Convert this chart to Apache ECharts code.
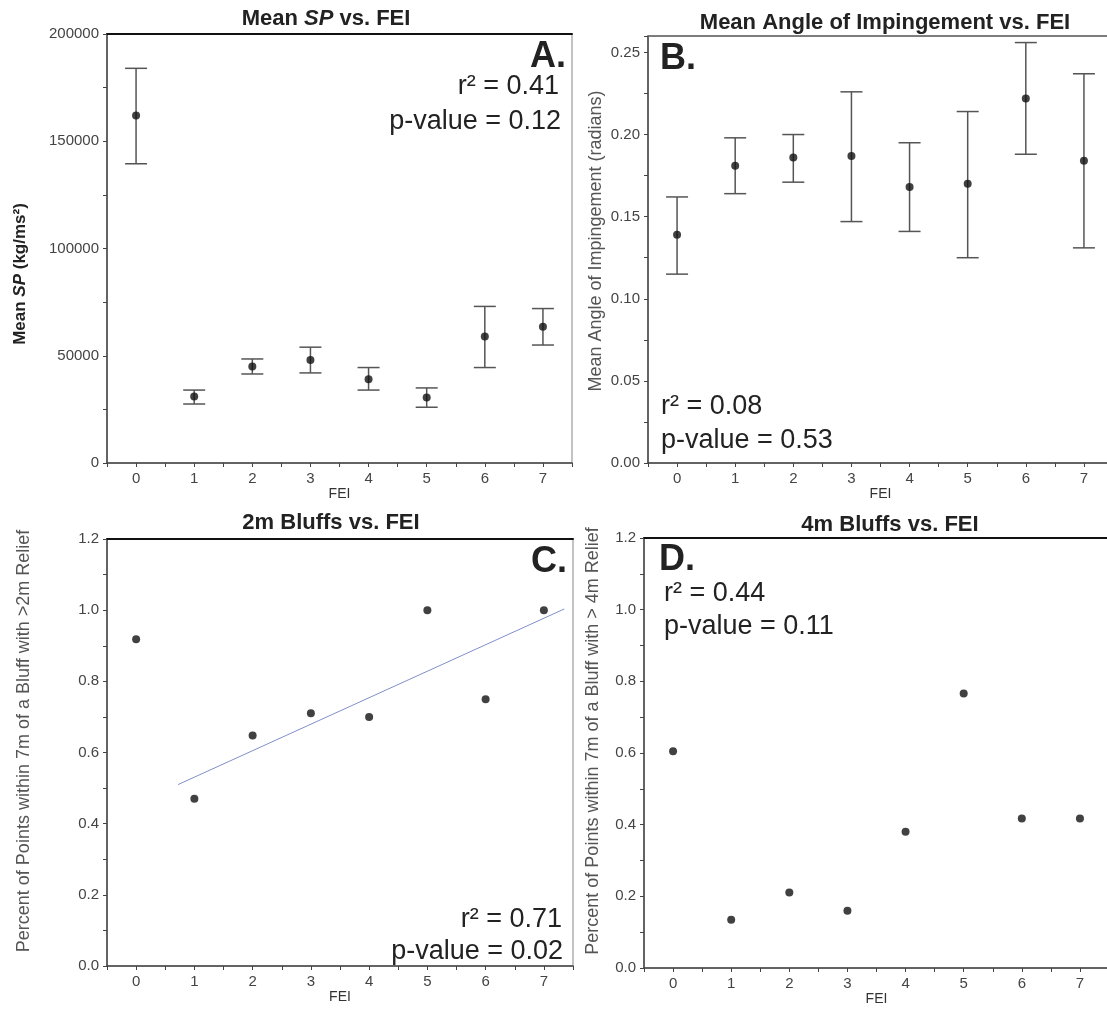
<!DOCTYPE html>
<html>
<head>
<meta charset="utf-8">
<script src="https://cdn.jsdelivr.net/npm/echarts@6/dist/echarts.min.js"></script>
<style>
  html, body { margin: 0; padding: 0; background: #fff; }
  #charts { width: 1107px; height: 1011px; }
</style>
</head>
<body>
<div id="charts"></div>
<script>
// FEI classes (x axis of every panel)
var fei = [0, 1, 2, 3, 4, 5, 6, 7];
var xTicks = [0, 1, 2, 3, 4, 5, 6, 7];

// A. Mean SP with error bars
var spMean = [162000, 31000, 45000, 48000, 39000, 30500, 59000, 63500];
var spLow  = [139500, 27500, 41500, 42000, 34000, 26000, 44500, 55000];
var spHigh = [184000, 34000, 48500, 54000, 44500, 35000, 73000, 72000];

// B. Mean angle of impingement with error bars
var angleMean = [0.139, 0.181, 0.186, 0.187, 0.168, 0.170, 0.222, 0.184];
var angleLow  = [0.115, 0.164, 0.171, 0.147, 0.141, 0.125, 0.188, 0.131];
var angleHigh = [0.162, 0.198, 0.200, 0.226, 0.195, 0.214, 0.256, 0.237];

// C. / D. share of points near bluffs
var bluff2m = [0.918, 0.470, 0.648, 0.710, 0.700, 1.0, 0.750, 1.0];
var bluff4m = [0.605, 0.135, 0.211, 0.160, 0.380, 0.766, 0.417, 0.417];

// fit line in C uses FEI 1..7, drawn over this x span
var fitFrom = 1;
var fitSpan = [0.72, 7.35];

var FONT = "'Liberation Sans', Arial, sans-serif";

function zip3(a, b, c) {
    return fei.map(function (x, i) { return [x, b[i], c[i]]; });
}
function pairs(ys) {
    return fei.map(function (x, i) { return [x, ys[i]]; });
}

// least squares line
function fitLine(xs, ys) {
    var n = xs.length, mx = 0, my = 0;
    for (var i = 0; i < n; i++) { mx += xs[i]; my += ys[i]; }
    mx /= n; my /= n;
    var sxy = 0, sxx = 0;
    for (var j = 0; j < n; j++) {
        sxy += (xs[j] - mx) * (ys[j] - my);
        sxx += (xs[j] - mx) * (xs[j] - mx);
    }
    var b = sxy / sxx;
    return { slope: b, icept: my - b * mx };
}
var fit = fitLine(fei.slice(fitFrom), bluff2m.slice(fitFrom));
var fitData = fitSpan.map(function (x) { return [x, fit.icept + fit.slope * x]; });

function renderErrorBar(params, api) {
    var x = api.value(0);
    var lo = api.coord([x, api.value(1)]);
    var hi = api.coord([x, api.value(2)]);
    var w = 11;
    var st = { stroke: '#555', lineWidth: 1.5 };
    return {
        type: 'group',
        children: [
            { type: 'line', shape: { x1: hi[0] - w, y1: hi[1], x2: hi[0] + w, y2: hi[1] }, style: st },
            { type: 'line', shape: { x1: hi[0], y1: hi[1], x2: lo[0], y2: lo[1] }, style: st },
            { type: 'line', shape: { x1: lo[0] - w, y1: lo[1], x2: lo[0] + w, y2: lo[1] }, style: st }
        ]
    };
}

// B and D run past the right edge of the page, like the original
var grids = [
    { left: 107, top: 34, width: 465, height: 429 },
    { left: 648, top: 36, width: 465, height: 427 },
    { left: 107, top: 539, width: 466, height: 427 },
    { left: 644, top: 538, width: 465, height: 430 }
];

var xAxes = [];
var yAxes = [];
var nameGapsX = [24, 24, 22, 22];
grids.forEach(function (g, i) {
    g.show = true;
    g.borderColor = '#888';
    g.borderWidth = 1;
    g.containLabel = false;
    g.outerBoundsMode = 'none';
    // bottom axis with labels
    xAxes.push({
        type: 'value', gridIndex: i, min: -0.5, max: 7.5, interval: 0.5,
        name: 'FEI', nameLocation: 'middle', nameGap: nameGapsX[i],
        nameTextStyle: { color: '#333', fontSize: 14, fontFamily: FONT },
        axisLine: { show: true, onZero: false, lineStyle: { color: '#444', width: 1.5 } },
        axisTick: { show: true, length: 4, lineStyle: { color: '#444' } },
        axisLabel: {
            margin: 8, color: '#444', fontSize: 15, fontFamily: FONT,
            formatter: function (v) {
                var r = Math.round(v);
                return (Math.abs(v - r) < 1e-6 && xTicks.indexOf(r) >= 0) ? String(r) : '';
            }
        },
        splitLine: { show: false }
    });
    // top frame line
    xAxes.push({
        type: 'value', gridIndex: i, position: 'top', min: -0.5, max: 7.5,
        axisLine: { show: true, onZero: false, lineStyle: { color: i === 1 ? '#666' : '#111', width: i === 1 ? 1.5 : 2 } },
        axisTick: { show: false }, axisLabel: { show: false }, splitLine: { show: false }
    });
});

var yBase = {
    type: 'value',
    axisLine: { show: true, onZero: false, lineStyle: { color: '#444', width: 1.5 } },
    axisTick: { show: true, length: 4, lineStyle: { color: '#444' } },
    splitLine: { show: false }
};
function yAxis(extra) {
    return Object.assign({}, yBase, extra);
}

yAxes.push(yAxis({
    gridIndex: 0, min: 0, max: 200000, interval: 25000,
    axisLabel: {
        margin: 8, color: '#444', fontSize: 15, fontFamily: FONT,
        formatter: function (v) { return v % 50000 === 0 ? String(v) : ''; }
    }
}));
yAxes.push(yAxis({
    gridIndex: 1, min: 0, max: 0.26, interval: 0.025,
    axisLabel: {
        margin: 8, color: '#444', fontSize: 15, fontFamily: FONT,
        formatter: function (v) {
            var k = Math.round(v * 1000);
            return (k % 50 === 0 && k <= 250) ? v.toFixed(2) : '';
        }
    }
}));
[2, 3].forEach(function (gi) {
    yAxes.push(yAxis({
        gridIndex: gi, min: 0, max: 1.2, interval: 0.1,
        axisLabel: {
            margin: 8, color: '#444', fontSize: 15, fontFamily: FONT,
            formatter: function (v) {
                return Math.round(v * 10) % 2 === 0 ? v.toFixed(1) : '';
            }
        }
    }));
});

function dots(xi, yi, data) {
    return {
        type: 'scatter', xAxisIndex: xi, yAxisIndex: yi, data: data,
        symbol: 'circle', symbolSize: 8, z: 5,
        itemStyle: { color: '#111' }, silent: true
    };
}
function bars(xi, yi, data) {
    return {
        type: 'custom', xAxisIndex: xi, yAxisIndex: yi, data: data,
        renderItem: renderErrorBar, encode: { x: 0, y: [1, 2] }, z: 3, silent: true
    };
}

function txt(x, y, text, size, align, weight, color, rot) {
    var c = color || '#222';
    return {
        type: 'text', x: x, y: y, rotation: rot || 0, silent: true,
        style: {
            text: text, fill: c, fontSize: size, fontWeight: weight || 'normal',
            fontFamily: FONT, align: align, textAlign: align,
            verticalAlign: 'middle', textVerticalAlign: 'middle',
            rich: { i: { fontStyle: 'italic', fontWeight: 'bold', fontSize: size, fontFamily: FONT, fill: c } }
        }
    };
}
var UP = Math.PI / 2;

var option = {
    backgroundColor: '#fff',
    animation: false,
    grid: grids,
    xAxis: xAxes,
    yAxis: yAxes,
    series: [
        bars(0, 0, zip3(fei, spLow, spHigh)),
        dots(0, 0, pairs(spMean)),
        bars(2, 1, zip3(fei, angleLow, angleHigh)),
        dots(2, 1, pairs(angleMean)),
        {
            type: 'line', xAxisIndex: 4, yAxisIndex: 2, data: fitData,
            symbol: 'none', z: 2, silent: true,
            lineStyle: { color: '#8190cc', width: 1 }
        },
        dots(4, 2, pairs(bluff2m)),
        dots(6, 3, pairs(bluff4m))
    ],
    graphic: [
        // panel titles
        txt(326, 19, 'Mean {i|SP} vs. FEI', 22, 'center', 'bold'),
        txt(885, 23, 'Mean Angle of Impingement vs. FEI', 22, 'center', 'bold'),
        txt(331, 523, '2m Bluffs vs. FEI', 22, 'center', 'bold'),
        txt(890, 525, '4m Bluffs vs. FEI', 22, 'center', 'bold'),
        // y axis titles
        txt(20, 274, 'Mean {i|SP} (kg/ms²)', 17, 'center', 'bold', '#222', UP),
        txt(596, 241, 'Mean Angle of Impingement (radians)', 18, 'center', 'normal', '#555', UP),
        txt(24, 741, 'Percent of Points within 7m of a Bluff with >2m Relief', 18, 'center', 'normal', '#555', UP),
        txt(593, 741, 'Percent of Points within 7m of a Bluff with > 4m Relief', 18, 'center', 'normal', '#555', UP),
        // A
        txt(566, 57, 'A.', 36, 'right', 'bold'),
        txt(559, 87, 'r² = 0.41', 27, 'right'),
        txt(561, 122, 'p-value = 0.12', 27, 'right'),
        // B
        txt(660, 59, 'B.', 36, 'left', 'bold'),
        txt(661, 407, 'r² = 0.08', 27, 'left'),
        txt(661, 441, 'p-value = 0.53', 27, 'left'),
        // C
        txt(567, 562, 'C.', 36, 'right', 'bold'),
        txt(562, 920, 'r² = 0.71', 27, 'right'),
        txt(563, 952, 'p-value = 0.02', 27, 'right'),
        // D
        txt(659, 560, 'D.', 36, 'left', 'bold'),
        txt(664, 594, 'r² = 0.44', 27, 'left'),
        txt(664, 627, 'p-value = 0.11', 27, 'left')
    ]
};

var myChart = echarts.init(document.getElementById('charts'));
myChart.setOption(option);
</script>
</body>
</html>
